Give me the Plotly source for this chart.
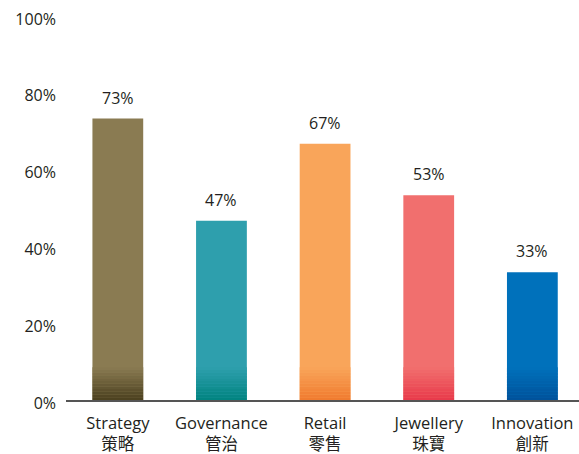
import plotly.graph_objects as go

# --- data ---
categories = ["Strategy<br>策略", "Governance<br>管治", "Retail<br>零售", "Jewellery<br>珠寶", "Innovation<br>創新"]
values = [73.3, 46.7, 66.7, 53.3, 33.3]
bar_colors = ["#8A7B52", "#2E9FAD", "#F9A55A", "#F16F6E", "#0071BB"]
base_colors = ["#4A3F1E", "#00837F", "#F07A2E", "#E8394A", "#00519A"]

FONT = "Open Sans, Noto Sans CJK TC, sans-serif"


def mix(c1, c2, t):
    a = [int(c1[i:i + 2], 16) for i in (1, 3, 5)]
    b = [int(c2[i:i + 2], 16) for i in (1, 3, 5)]
    return "#%02x%02x%02x" % tuple(round(a[j] + (b[j] - a[j]) * t) for j in range(3))


fig = go.Figure()

fig.add_trace(go.Bar(
    x=categories, y=values,
    marker=dict(color=bar_colors, line_width=0),
    hoverinfo="skip",
))

# darker fade at the foot of each bar
fade_height = 8.5
steps = 12
step = fade_height / steps
for k in range(steps):
    t = (k + 0.5) / steps
    fig.add_trace(go.Bar(
        x=categories, y=[step] * len(categories), base=[k * step] * len(categories),
        marker=dict(color=[mix(base_colors[i], bar_colors[i], t) for i in range(len(categories))],
                    line_width=0),
        hoverinfo="skip",
    ))

# value labels above bars
for c, v in zip(categories, values):
    fig.add_annotation(x=c, y=v, text=f"{v:.0f}%", showarrow=False, yanchor="bottom",
                       yshift=8, font=dict(size=16, color="#231F20", family=FONT))

fig.update_layout(
    width=579, height=454,
    margin=dict(l=66, r=0, t=16, b=54),
    barmode="overlay",
    bargap=0.51,
    showlegend=False,
    plot_bgcolor="white",
    paper_bgcolor="white",
    font=dict(family=FONT, size=16, color="#231F20"),
)
fig.update_xaxes(range=[-0.5, 4.45], showline=True, linecolor="#555555", linewidth=1.5, ticks="",
                 ticklabelstandoff=7, tickfont=dict(size=16.5, color="#231F20"))
fig.update_yaxes(range=[0, 100], dtick=20, ticksuffix="%", showgrid=False, zeroline=False,
                 showline=False, ticks="", ticklabelstandoff=9, ticklabelshift=3,
                 tickfont=dict(size=16, color="#231F20"))

fig.write_html("out.html", config={"displayModeBar": False},
               post_script="document.body.style.margin='0';")
